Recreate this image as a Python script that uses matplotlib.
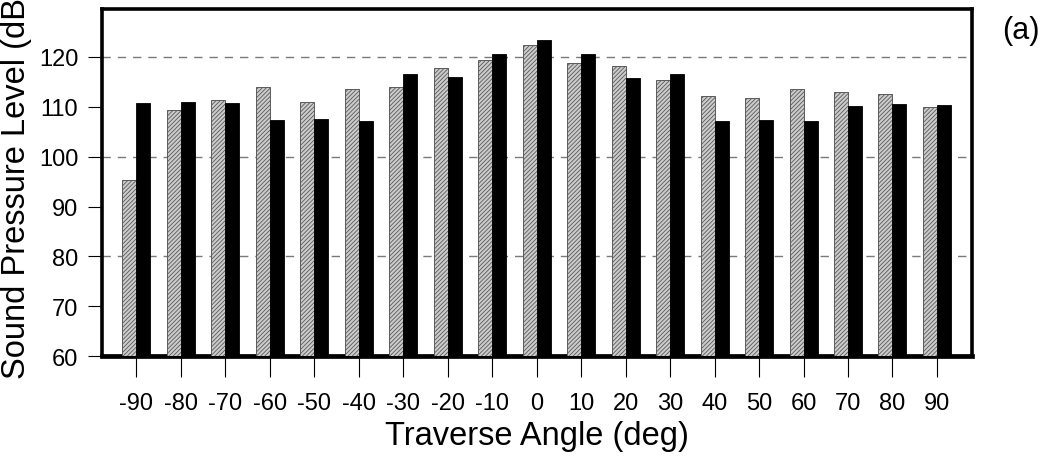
import numpy as np
import matplotlib
matplotlib.use("Agg")
import matplotlib.pyplot as plt
from matplotlib.ticker import MultipleLocator, FormatStrFormatter

plt.rcParams['font.family'] = ['Liberation Sans', 'DejaVu Sans']
plt.rcParams['hatch.linewidth'] = 0.6

# traverse angles and the two measured levels at each one
angles = [-90, -80, -70, -60, -50, -40, -30, -20, -10, 0,
          10, 20, 30, 40, 50, 60, 70, 80, 90]
spl_grey = [95.4, 109.4, 111.3, 114.0, 110.9, 113.6, 114.0, 117.7, 119.3, 122.3,
            118.7, 118.2, 115.3, 112.2, 111.7, 113.6, 113.0, 112.5, 109.9]
spl_black = [110.8, 111.0, 110.7, 107.4, 107.6, 107.2, 116.6, 115.9, 120.5, 123.4,
             120.5, 115.8, 116.6, 107.1, 107.4, 107.1, 110.2, 110.6, 110.4]

fig = plt.figure(figsize=(10.51, 4.60), dpi=100)
ax = fig.add_axes([0.0968, 0.2233, 0.8277, 0.756])

w = 3.15
# grey bars sit left of each tick, black bars to the right
ax.bar(angles, spl_grey, width=-w, align='edge',
       facecolor='#cbcbcb', edgecolor='#5a5a5a', linewidth=0.7,
       hatch='////////', zorder=3)
ax.bar(angles, spl_black, width=w, align='edge',
       facecolor='black', edgecolor='black', linewidth=0.6, zorder=3)

ax.set_xlim(-97.8, 97.8)
ax.set_ylim(60, 129.7)

ax.set_xticks(angles)
ax.set_xticklabels([str(a) for a in angles])
ax.yaxis.set_major_locator(MultipleLocator(20))
ax.yaxis.set_minor_locator(MultipleLocator(10))
ax.yaxis.set_minor_formatter(FormatStrFormatter('%d'))
ax.set_yticks([60, 80, 100, 120])

ax.grid(axis='y', which='major', color='#7a7a7a', linestyle=(0, (6, 5)),
        linewidth=1.0, zorder=1)
ax.set_axisbelow(True)

ax.tick_params(axis='x', direction='out', length=15, width=0.8, pad=11,
               labelsize=17, top=False)
ax.tick_params(axis='y', which='both', direction='out', length=10, width=0.8,
               pad=7, labelsize=17, right=False)

for side in ['left', 'right', 'top']:
    ax.spines[side].set_linewidth(2.6)
ax.spines['bottom'].set_linewidth(3.4)

ax.set_xlabel('Traverse Angle (deg)', fontsize=23.5, labelpad=4)
ax.set_ylabel('Sound Pressure Level (dB)', fontsize=23.5, labelpad=5)

fig.text(0.9715, 0.933, '(a)', fontsize=22, ha='center', va='center')

fig.savefig('out.png', dpi=100)
